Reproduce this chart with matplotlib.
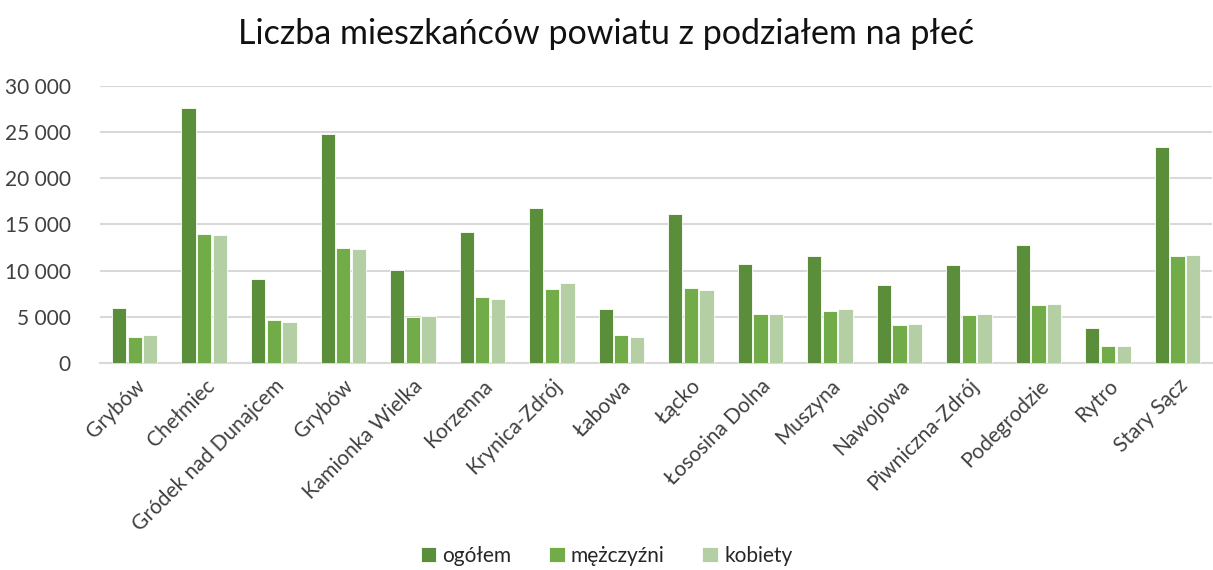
import matplotlib
matplotlib.use('Agg')
import matplotlib.pyplot as plt
import numpy as np

plt.rcParams['font.family'] = ['Lato', 'DejaVu Sans']

gminy = ['Grybów', 'Chełmiec', 'Gródek nad Dunajcem', 'Grybów', 'Kamionka Wielka',
         'Korzenna', 'Krynica-Zdrój', 'Łabowa', 'Łącko', 'Łososina Dolna', 'Muszyna',
         'Nawojowa', 'Piwniczna-Zdrój', 'Podegrodzie', 'Rytro', 'Stary Sącz']
ogolem = [6000, 27600, 9120, 24800, 10060, 14170, 16800, 5840, 16120, 10710,
          11610, 8440, 10600, 12800, 3790, 23370]
mezczyzni = [2850, 13900, 4620, 12400, 4940, 7180, 8040, 2990, 8110, 5300,
             5660, 4150, 5190, 6310, 1880, 11610]
kobiety = [3070, 13800, 4470, 12300, 5050, 6920, 8690, 2810, 7930, 5270,
           5880, 4220, 5340, 6380, 1880, 11720]
serie = ['ogółem', 'mężczyźni', 'kobiety']
kolory = ['#5B8E3A', '#72AC48', '#B5CFA5']

fig = plt.figure(figsize=(12.13, 5.70), dpi=100)
ax = fig.add_axes([0.0824, 0.363, 0.917, 0.487])

x = np.arange(len(gminy))
w = 0.205
for i, (vals, name, col) in enumerate(zip([ogolem, mezczyzni, kobiety], serie, kolory)):
    ax.bar(x + (i - 1) * 0.225, vals, width=w, color=col, label=name,
           edgecolor='white', linewidth=0.6, zorder=3)

ax.set_xlim(-0.5, len(gminy) - 0.5)
ax.set_ylim(0, 30000)
ax.set_yticks(np.arange(0, 30001, 5000))
ax.set_yticklabels([f'{v:,}'.replace(',', ' ') for v in range(0, 30001, 5000)])
ax.yaxis.grid(True, color='#d9d9d9', linewidth=1.5, zorder=0)
ax.set_axisbelow(True)
for s in ['top', 'right', 'left']:
    ax.spines[s].set_visible(False)
ax.spines['bottom'].set_color('#d9d9d9')
ax.spines['bottom'].set_linewidth(1.5)
ax.tick_params(axis='both', length=0, labelsize=15, colors='#404040')
ax.tick_params(axis='y', pad=21)
ax.set_xticks(x)
ax.set_xticklabels(gminy, rotation=45, ha='right', rotation_mode='anchor')
ax.tick_params(axis='x', pad=9)

fig.text(0.5, 0.94, 'Liczba mieszkańców powiatu z podziałem na płeć',
         ha='center', va='center', fontsize=24.5, color='#111111')

fig.legend(loc='lower center', bbox_to_anchor=(0.5, -0.025), ncol=3, frameon=False,
           fontsize=15, handlelength=0.75, handleheight=0.75, handletextpad=0.3,
           columnspacing=1.8, labelcolor='#262626')

fig.savefig('out.png', dpi=100, facecolor='white')
